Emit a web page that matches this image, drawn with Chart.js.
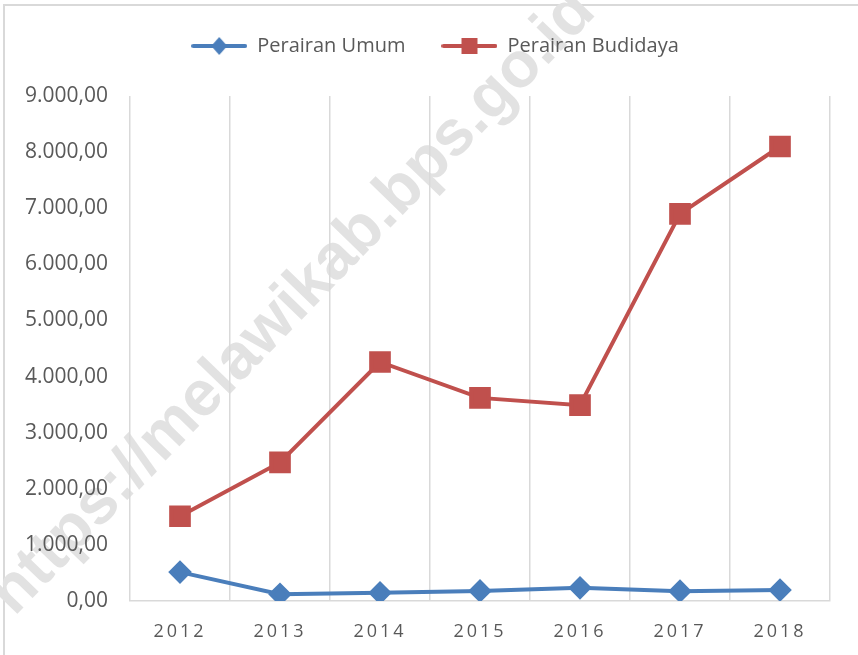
<!DOCTYPE html>
<html>
<head>
<meta charset="utf-8">
<script src="https://cdn.jsdelivr.net/npm/chart.js@4"></script>
<style>
  html, body { margin: 0; padding: 0; background: #fff; overflow: hidden; }
  #wrap { position: relative; width: 858px; height: 655px; }
  #frame { position: absolute; left: 3px; top: 4px; width: 860px; height: 700px; border: 2px solid #d9d9d9; box-sizing: border-box; }
  #mark {
    position: absolute; left: 290px; top: 300px;
    transform: translate(-50%, -50%) rotate(-46deg);
    font: bold 64px "Liberation Sans", Arial, sans-serif; color: #e2e2e2; white-space: nowrap;
  }
  canvas { position: absolute; left: 0; top: 0; }
</style>
</head>
<body>
<div id="wrap">
  <div id="frame"></div>
  <div id="mark">https://melawikab.bps.go.id</div>
  <canvas id="chart" width="858" height="655"></canvas>
</div>
<script>
// data
const years = ['2012', '2013', '2014', '2015', '2016', '2017', '2018'];
const perairanUmum = [515, 120, 145, 180, 235, 175, 195];
const perairanBudidaya = [1510, 2470, 4260, 3620, 3490, 6900, 8100];
const yTicks = [0, 1000, 2000, 3000, 4000, 5000, 6000, 7000, 8000, 9000];

const blue = '#4a7ebb';
const red = '#c0504d';

// "9.000,00" style numbers
function fmt(v) {
  const s = String(Math.round(v)).replace(/\B(?=(\d{3})+(?!\d))/g, '.');
  return s + ',00';
}

// small line + marker picture for the legend
function legendIcon(color, shape) {
  const c = document.createElement('canvas');
  c.width = 56; c.height = 18;
  const g = c.getContext('2d');
  g.strokeStyle = color; g.lineWidth = 4; g.lineCap = 'round';
  g.beginPath(); g.moveTo(2, 9); g.lineTo(54, 9); g.stroke();
  g.fillStyle = color;
  if (shape === 'diamond') {
    g.beginPath(); g.moveTo(28, 0); g.lineTo(36, 9); g.lineTo(28, 18); g.lineTo(20, 9); g.closePath(); g.fill();
  } else {
    g.fillRect(20, 1, 16, 16);
  }
  return c;
}
const icons = [legendIcon(blue, 'diamond'), legendIcon(red, 'square')];

// letter spaced year labels, extra room under the legend, legend nudged right
const tweaks = {
  id: 'tweaks',
  beforeLayout(chart) {
    const lg = chart.legend;
    if (lg && !lg._tall) {
      const fit = lg.fit.bind(lg);
      lg.fit = function() { fit(); this.height += 30; };
      lg._tall = true;
    }
  },
  afterLayout(chart) {
    chart.legend.left += 40;
  },
  beforeDraw(chart) {
    const sc = chart.scales.x;
    if (sc._spaced) return;
    const orig = sc.drawLabels.bind(sc);
    sc.drawLabels = function(area) {
      chart.ctx.save();
      chart.ctx.letterSpacing = '3px';
      orig(area);
      chart.ctx.restore();
    };
    sc._spaced = true;
  }
};

new Chart(document.getElementById('chart'), {
  type: 'line',
  data: {
    labels: years,
    datasets: [
      {
        label: 'Perairan Umum',
        data: perairanUmum,
        borderColor: blue,
        backgroundColor: blue,
        borderWidth: 4,
        pointStyle: 'rectRot',
        pointRadius: 9,
        pointHoverRadius: 9,
        tension: 0
      },
      {
        label: 'Perairan Budidaya',
        data: perairanBudidaya,
        borderColor: red,
        backgroundColor: red,
        borderWidth: 4,
        pointStyle: 'rect',
        pointRadius: 12.5,
        pointHoverRadius: 12.5,
        tension: 0
      }
    ]
  },
  options: {
    responsive: false,
    animation: false,
    layout: { padding: { top: 0, right: 28, left: 0, bottom: 0 } },
    plugins: {
      tooltip: { enabled: false },
      legend: {
        position: 'top',
        labels: {
          usePointStyle: true,
          pointStyleWidth: 56,
          padding: 36,
          color: '#595959',
          font: { family: 'Open Sans', size: 20 },
          generateLabels: chart => chart.data.datasets.map((ds, i) => ({
            text: ds.label,
            pointStyle: icons[i],
            fontColor: '#595959',
            strokeStyle: ds.borderColor,
            fillStyle: ds.backgroundColor,
            lineWidth: 0,
            datasetIndex: i
          }))
        }
      }
    },
    scales: {
      x: {
        offset: true,
        grid: { display: true, offset: true, color: '#d9d9d9', lineWidth: 1.5, drawTicks: false },
        border: { display: true, color: '#d9d9d9', width: 1.5 },
        ticks: { color: '#595959', padding: 20, font: { family: 'Open Sans', size: 18 } },
        afterFit: s => { s.height = 54; }
      },
      y: {
        min: 0,
        max: 9000,
        afterBuildTicks: s => { s.ticks = yTicks.map(v => ({ value: v })); },
        grid: { display: false, drawTicks: false },
        border: { display: false },
        ticks: {
          color: '#595959',
          padding: 22,
          font: { family: 'Open Sans', size: 21 },
          callback: v => fmt(v)
        },
        afterFit: s => { s.width = 130; }
      }
    }
  },
  plugins: [tweaks]
});
</script>
</body>
</html>
